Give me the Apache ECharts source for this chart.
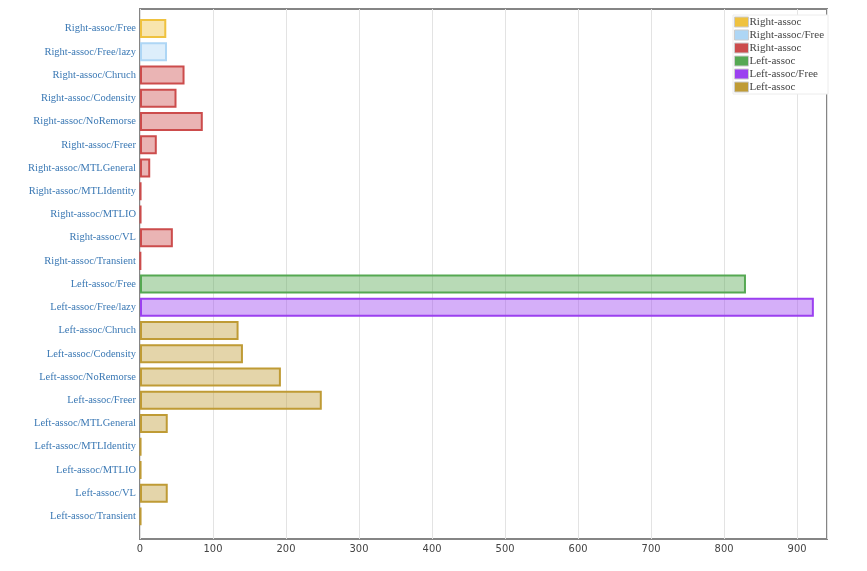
<!DOCTYPE html>
<html>
<head>
<meta charset="utf-8">
<script src="https://cdn.jsdelivr.net/npm/echarts@6/dist/echarts.min.js"></script>
<style>
  html, body { margin: 0; padding: 0; background: #fff; }
  #main { width: 867px; height: 571px; }
</style>
</head>
<body>
<div id="main"></div>
<script>
// benchmark rows, top to bottom
var categories = [
  'Right-assoc/Free', 'Right-assoc/Free/lazy', 'Right-assoc/Chruch', 'Right-assoc/Codensity',
  'Right-assoc/NoRemorse', 'Right-assoc/Freer', 'Right-assoc/MTLGeneral', 'Right-assoc/MTLIdentity',
  'Right-assoc/MTLIO', 'Right-assoc/VL', 'Right-assoc/Transient',
  'Left-assoc/Free', 'Left-assoc/Free/lazy', 'Left-assoc/Chruch', 'Left-assoc/Codensity',
  'Left-assoc/NoRemorse', 'Left-assoc/Freer', 'Left-assoc/MTLGeneral', 'Left-assoc/MTLIdentity',
  'Left-assoc/MTLIO', 'Left-assoc/VL', 'Left-assoc/Transient'
];
var values = [
  36, 37, 61, 50, 86, 23, 14, 1.5, 1.5, 45, 1,
  830, 923, 135, 141, 193, 249, 38, 1.5, 1.5, 38, 1.5
];
// which legend group each row belongs to (index into groupNames)
var rowGroup = [0, 1, 2, 2, 2, 2, 2, 2, 2, 2, 2, 3, 4, 5, 5, 5, 5, 5, 5, 5, 5, 5];
// trailing spaces keep the duplicated legend names apart
var groupNames = ['Right-assoc', 'Right-assoc/Free', 'Right-assoc ', 'Left-assoc', 'Left-assoc/Free', 'Left-assoc '];
var groupColors = ['#efc23f', '#aed6f5', '#cc4c4c', '#55a852', '#9b40f0', '#bf9b35'];
var xTicks = [0, 100, 200, 300, 400, 500, 600, 700, 800, 900];
var xMax = 941;

function fade(hex, a) {
  var r = parseInt(hex.substr(1, 2), 16), g = parseInt(hex.substr(3, 2), 16), b = parseInt(hex.substr(5, 2), 16);
  return 'rgba(' + r + ',' + g + ',' + b + ',' + a + ')';
}

var series = groupNames.map(function (name, gi) {
  return {
    name: name,
    type: 'bar',
    stack: 'all',
    xAxisIndex: 0,
    yAxisIndex: 0,
    barWidth: 19,
    itemStyle: { color: fade(groupColors[gi], 0.42), borderColor: groupColors[gi], borderWidth: 2 },
    data: values.map(function (v, i) { return rowGroup[i] === gi ? v : '-'; })
  };
});

var chart = echarts.init(document.getElementById('main'));
chart.setOption({
  animation: false,
  color: groupColors,
  grid: [
    { left: 140, right: 40, top: 17, bottom: 43 },
    { left: 140, right: 40, top: 9, bottom: 32, show: true, borderColor: '#858585', borderWidth: 2, backgroundColor: 'transparent' }
  ],
  legend: {
    orient: 'vertical',
    left: 733,
    top: 15,
    itemWidth: 14,
    itemHeight: 10,
    itemGap: 1,
    padding: [1, 4, 1, 1],
    backgroundColor: '#fff',
    borderColor: '#ececec',
    borderWidth: 1,
    icon: 'rect',
    itemStyle: { borderColor: '#cccccc', borderWidth: 1, opacity: 1 },
    textStyle: { fontFamily: 'Liberation Serif', fontSize: 11, lineHeight: 12, color: '#444', padding: [0, 0, 0, -4] },
    data: groupNames.map(function (n, i) {
      return { name: n, itemStyle: { color: groupColors[i] } };
    })
  },
  xAxis: [
    { type: 'value', gridIndex: 0, min: 0, max: xMax, show: false },
    {
      type: 'value', gridIndex: 1, min: 0, max: xMax, interval: 100,
      axisLine: { show: false },
      axisTick: { show: false },
      splitLine: { show: true, lineStyle: { color: '#e3e3e3', width: 1 } },
      axisLabel: {
        color: '#444', fontFamily: 'DejaVu Sans Condensed', fontSize: 11, margin: 5,
        showMaxLabel: false,
        formatter: function (v) { return xTicks.indexOf(v) >= 0 ? String(v) : ''; }
      }
    }
  ],
  yAxis: [
    {
      type: 'category', gridIndex: 0, inverse: true, data: categories,
      axisLine: { show: false },
      axisTick: { show: false },
      splitLine: { show: false },
      axisLabel: { color: '#3a78b4', fontFamily: 'Liberation Serif', fontSize: 10.5, margin: 4, interval: 0 }
    },
    { type: 'value', gridIndex: 1, show: false }
  ],
  series: series
});
</script>
</body>
</html>
